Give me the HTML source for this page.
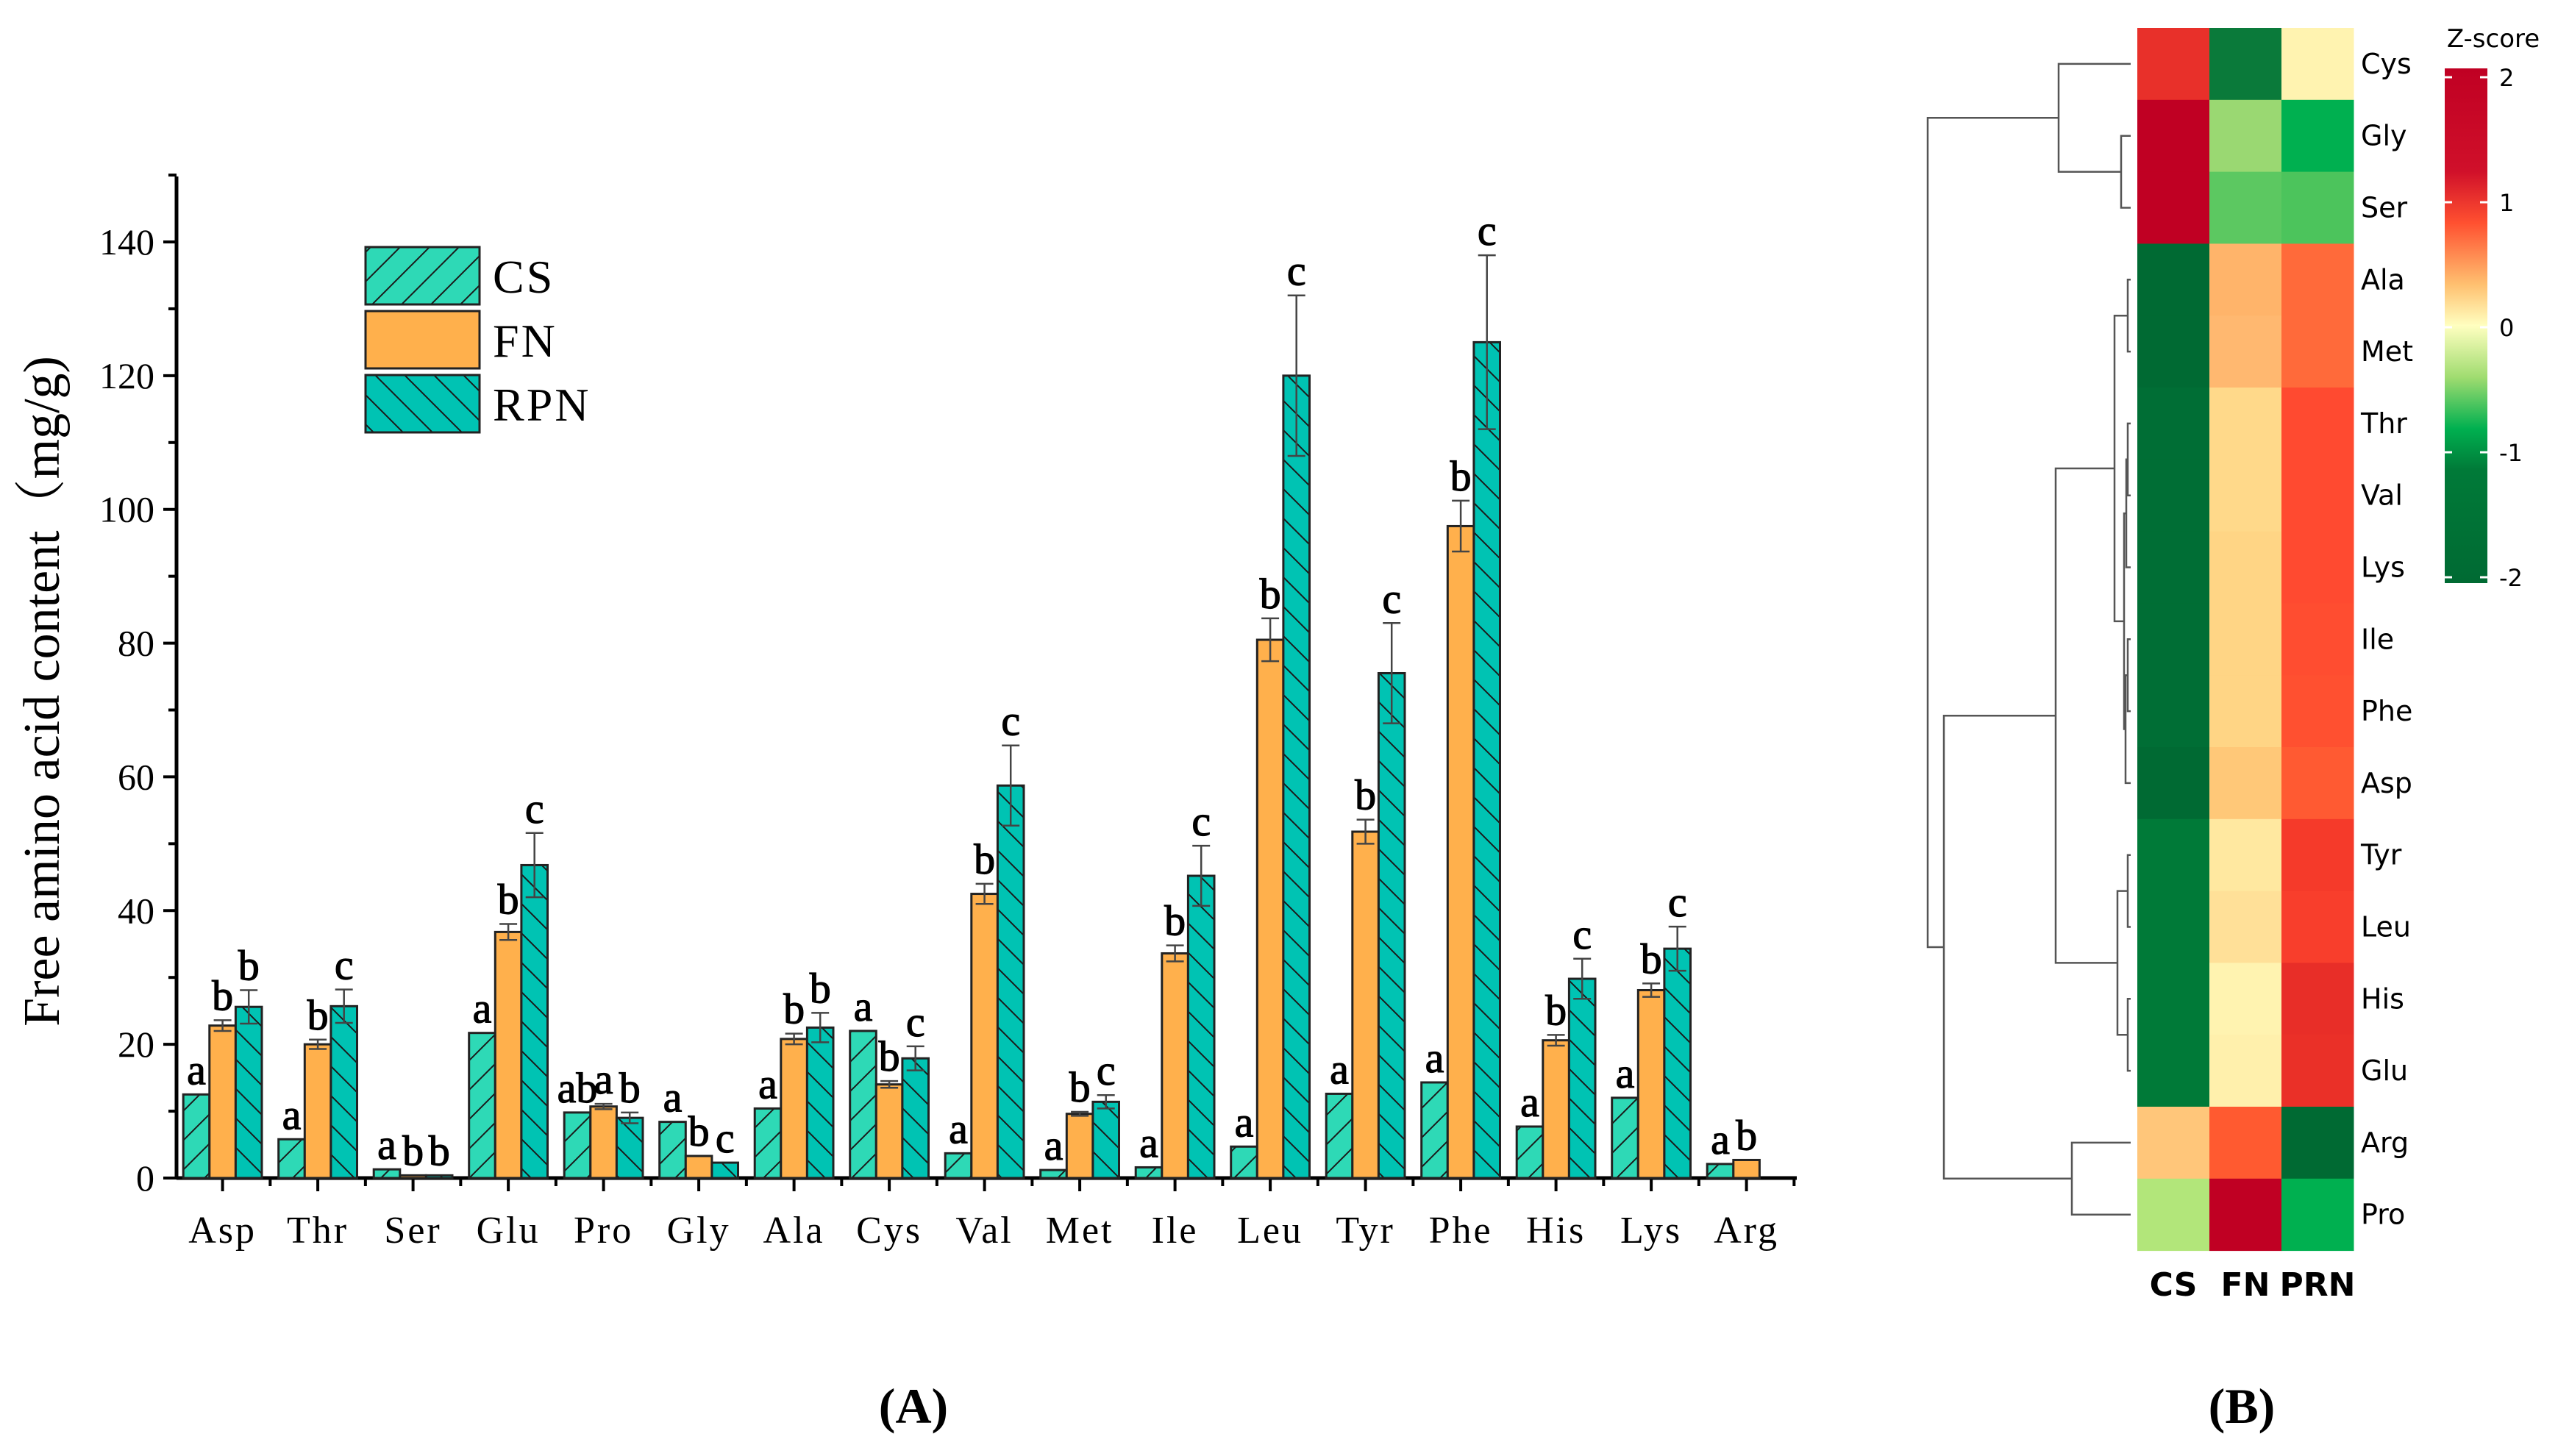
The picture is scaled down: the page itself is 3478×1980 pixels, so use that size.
<!DOCTYPE html>
<html><head><meta charset="utf-8">
<style>
html,body{margin:0;padding:0;background:#fff;}
svg{display:block;}
</style></head>
<body>
<svg id="fig" width="3478" height="1980" xmlns="http://www.w3.org/2000/svg">
<defs>
<pattern id="hatchF" width="40" height="40" patternUnits="userSpaceOnUse"><rect width="40" height="40" fill="#2ed9b6"/><path d="M-10,50 L50,-10 M-30,30 L30,-30 M10,70 L70,10" stroke="#1a1a1a" stroke-width="2"/></pattern>
<pattern id="hatchB" width="40" height="40" patternUnits="userSpaceOnUse"><rect width="40" height="40" fill="#00c3b3"/><path d="M-10,-10 L50,50 M-30,10 L30,70 M10,-30 L70,30" stroke="#1a1a1a" stroke-width="2"/></pattern>
</defs>
<g id="chartA"></g>
<g id="heat"></g>
<text x="1242" y="1935" font-family="Liberation Serif, serif" font-weight="bold" font-size="68" text-anchor="middle">(A)</text>
<text x="3048" y="1935" font-family="Liberation Serif, serif" font-weight="bold" font-size="68" text-anchor="middle">(B)</text>
</svg>
<script>
const categories=["Asp","Thr","Ser","Glu","Pro","Gly","Ala","Cys","Val","Met","Ile","Leu","Tyr","Phe","His","Lys","Arg"];
const csValues=[12.5,5.8,1.3,21.7,9.8,8.4,10.4,22,3.7,1.2,1.6,4.7,12.6,14.3,7.7,12,2.1];
const fnValues=[22.8,20,0.4,36.8,10.7,3.3,20.8,14,42.5,9.6,33.6,80.5,51.8,97.5,20.6,28.1,2.7];
const rpnValues=[25.6,25.7,0.4,46.8,9,2.3,22.5,17.9,58.7,11.4,45.2,120,75.5,125,29.8,34.3,0];
const fnErr=[0.8,0.7,0,1.2,0.4,0,0.8,0.5,1.5,0.3,1.2,3.2,1.8,3.8,0.8,1,0];
const rpnErr=[2.5,2.5,0,4.8,0.8,0,2.2,1.8,6,1,4.5,12,7.5,13,3,3.3,0];
const csLetters=["a","a","a","a","ab","a","a","a","a","a","a","a","a","a","a","a","a"];
const fnLetters=["b","b","b","b","a","b","b","b","b","b","b","b","b","b","b","b","b"];
const rpnLetters=["b","c","b","c","b","c","b","c","c","c","c","c","c","c","c","c",""];
const yTicks=[0,20,40,60,80,100,120,140];

const NS="http://www.w3.org/2000/svg";
function mk(parent,tag,attrs,text){const e=document.createElementNS(NS,tag);for(const k in attrs)e.setAttribute(k,attrs[k]);if(text!==undefined)e.textContent=text;parent.appendChild(e);return e;}
const A=document.getElementById('chartA');
const x0=240,yBase=1602,yTop=240,xEnd=2443;
const pxPer=(1602-329)/140;
function Y(v){return yBase-v*pxPer;}
const step=129.5,first=302.6,bw=35.6;
function X(i){return first+i*step;}
const serif="Liberation Serif, serif";
let ax=mk(A,'line',{x1:x0,y1:yTop,x2:x0,y2:yBase,stroke:'#000','stroke-width':5});

for(let v=0;v<=150;v+=10){const t=mk(A,'line',{x1:x0-(v%20==0?18:11),y1:Y(v),x2:x0,y2:Y(v),stroke:'#000','stroke-width':4});}
yTicks.forEach(v=>{const t=mk(A,'text',{x:x0-30,y:Y(v)+17,'font-family':serif,'font-size':50,'text-anchor':'end'},String(v));});
const yt=mk(A,'text',{transform:'translate(80,940) rotate(-90)','font-family':'Liberation Serif, "Noto Serif CJK SC", serif','font-size':70,'text-anchor':'middle'},'Free amino acid content（mg/g)');

ax=mk(A,'line',{x1:x0,y1:yBase,x2:xEnd,y2:yBase,stroke:'#000','stroke-width':5});

categories.forEach((c,i)=>{
 let t=mk(A,'line',{x1:X(i),y1:yBase,x2:X(i),y2:yBase+18,stroke:'#000','stroke-width':4});
 t=mk(A,'line',{x1:X(i)+step/2,y1:yBase,x2:X(i)+step/2,y2:yBase+11,stroke:'#000','stroke-width':4});
 t=mk(A,'text',{x:X(i),y:yBase+88,'font-family':serif,'font-size':52,'text-anchor':'middle','letter-spacing':3},c);
});
const series=[{vals:csValues,err:null,fill:'url(#hatchF)',let:csLetters,off:-1,name:'cs'},{vals:fnValues,err:fnErr,fill:'#ffb04c',let:fnLetters,off:0,name:'fn'},{vals:rpnValues,err:rpnErr,fill:'url(#hatchB)',let:rpnLetters,off:1,name:'rpn'}];
series.forEach(s=>{
 s.vals.forEach((v,i)=>{
  const cx=X(i)+s.off*bw;
  if(v>0){const r=mk(A,'rect',{x:cx-bw/2,y:Y(v),width:bw,height:yBase-Y(v),fill:s.fill,stroke:'#222','stroke-width':3});
  }
  let top=v;
  if(s.err&&s.err[i]>0){const e=s.err[i];top=v+e;
   const g=mk(A,'path',{d:`M${cx},${Y(v-e)}V${Y(v+e)}M${cx-12},${Y(v+e)}H${cx+12}M${cx-12},${Y(v-e)}H${cx+12}`,stroke:'#444','stroke-width':2.5,fill:'none'});
   }
  if(s.let[i]){const t=mk(A,'text',{x:cx,y:Y(top)-14,'font-family':serif,'font-size':58,'text-anchor':'middle',stroke:'#000','stroke-width':1.2},s.let[i]);
   }
 });
});
const leg=[['CS','url(#hatchF)'],['FN','#ffb04c'],['RPN','url(#hatchB)']];
leg.forEach((l,k)=>{const y=336+k*87;
 const r=mk(A,'rect',{x:497,y:y,width:155,height:78,fill:l[1],stroke:'#222','stroke-width':3});
 const t=mk(A,'text',{x:670,y:y+62,'font-family':serif,'font-size':64,'letter-spacing':3},l[0]);});

const rowsH=["Cys","Gly","Ser","Ala","Met","Thr","Val","Lys","Ile","Phe","Asp","Tyr","Leu","His","Glu","Arg","Pro"];
const colsH=["CS","FN","PRN"];
const csColors=["#e8302a","#c00023","#c00023","#006a33","#006a33","#006e35","#006e35","#006e35","#006e35","#006e35","#006a33","#007a38","#007a38","#007a38","#007a38","#ffc67a","#b2e67a"];
const fnColors=["#0a7a3a","#9ad872","#5cc861","#ffb46a","#ffb870","#ffd98a","#ffd98a","#ffd585","#ffd585","#ffd585","#ffc878","#ffe8a0","#ffe098","#fff3b0","#fff0ac","#ff5a30","#c00023"];
const prnColors=["#fff3b0","#00b050","#4cc45c","#ff6a3a","#ff6a3a","#ff4a30","#ff4a30","#ff4a30","#ff4d30","#ff5030","#ff5a32","#f53a2a","#f83e2c","#e82e28","#ea3028","#006a33","#00b050"];
const H=document.getElementById('heat');
const hx=2906,hy=38,cw=98,rh=97.8;
[csColors,fnColors,prnColors].forEach((arr,c)=>arr.forEach((col,r)=>{
 const e=mk(H,'rect',{x:hx+c*cw,y:hy+r*rh,width:cw+0.5,height:rh+0.5,fill:col});
 }));
rowsH.forEach((n,r)=>{const t=mk(H,'text',{x:3210,y:hy+r*rh+rh/2+13,'font-family':'DejaVu Sans, sans-serif','font-size':38},n);});
colsH.forEach((n,c)=>{const t=mk(H,'text',{x:hx+c*cw+cw/2,y:1762,'font-family':'DejaVu Sans, sans-serif','font-weight':'bold','font-size':44,'text-anchor':'middle'},n);});
function ry(r){return hy+r*rh+rh/2;}
const dend=[];
function link(xj,ya,yb,xa,xb){dend.push(`M${xa},${ya}H${xj}V${yb}H${xb}`);}
const L=2897;
link(2884,ry(1),ry(2),L,L);
link(2799,ry(0),(ry(1)+ry(2))/2,L,2884);
link(2893,ry(3),ry(4),L,L);
link(2893,ry(5),ry(6),L,L);
link(2891,(ry(5)+ry(6))/2,ry(7),2893,L);
link(2893,ry(8),ry(9),L,L);
link(2890,(ry(8)+ry(9))/2,ry(10),2893,L);
link(2888,(ry(5)+ry(6)+2*ry(7))/4,(ry(8)+ry(9)+2*ry(10))/4,2891,2890);
const c1b=((ry(5)+ry(6)+2*ry(7))/4+(ry(8)+ry(9)+2*ry(10))/4)/2;
link(2875,(ry(3)+ry(4))/2,c1b,2893,2888);
const c1=((ry(3)+ry(4))/2+c1b)/2;
link(2893,ry(11),ry(12),L,L);
link(2893,ry(13),ry(14),L,L);
link(2879,(ry(11)+ry(12))/2,(ry(13)+ry(14))/2,2893,2893);
const c2=(ry(11)+ry(12)+ry(13)+ry(14))/4;
link(2795,c1,c2,2875,2879);
const cb=(c1+c2)/2;
link(2817,ry(15),ry(16),L,L);
link(2643,cb,(ry(15)+ry(16))/2,2795,2817);
const ct=(ry(0)+(ry(1)+ry(2))/2)/2;
link(2621,ct,(cb+(ry(15)+ry(16))/2)/2,2799,2643);
const dp=mk(H,'path',{d:dend.join(''),stroke:'#555','stroke-width':2.5,fill:'none'});

const grad=mk(document.querySelector('defs'),'linearGradient',{id:'zg',x1:0,y1:0,x2:0,y2:1});
[['0','#c00023'],['0.2','#d0102a'],['0.3','#ff5030'],['0.42','#ffc070'],['0.5','#ffffc0'],['0.6','#a0dc70'],['0.7','#00b050'],['0.78','#007a38'],['1','#006a33']].forEach(s=>mk(grad,'stop',{offset:s[0],'stop-color':s[1]}));
const cb2=mk(H,'rect',{x:3324,y:93,width:58,height:700,fill:'url(#zg)'});

const zTicks=[2,1,0,-1,-2];
zTicks.forEach(z=>{const y=445-z*170;
 const t=mk(H,'path',{d:`M3324,${y}h10M3372,${y}h10`,stroke:'#fff','stroke-width':3});
 const l=mk(H,'text',{x:3398,y:y+12,'font-family':'DejaVu Sans, sans-serif','font-size':32},String(z));});
const zt=mk(H,'text',{x:3390,y:64,'font-family':'DejaVu Sans, sans-serif','font-size':34,'text-anchor':'middle'},'Z-score');

</script>
</body></html>
